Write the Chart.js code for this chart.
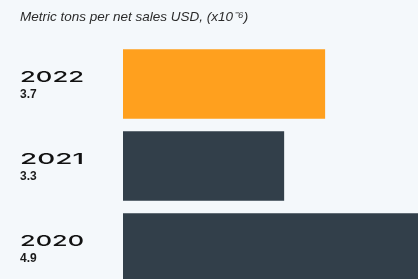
<!DOCTYPE html>
<html>
<head>
<meta charset="utf-8">
<script src="https://cdn.jsdelivr.net/npm/chart.js@4"></script>
<style>
  html,body{margin:0;padding:0;background:#f4f8fb;overflow:hidden;}
  #wrap{position:relative;width:418px;height:289px;}
</style>
</head>
<body>
<div id="wrap"><canvas id="c"></canvas></div>
<script>
const TITLE = 'Metric tons per net sales USD, (x10\u207B\u2076)';
const years  = ['2022', '2021', '2020'];
const values = [3.7, 3.3, 4.9];
const colors = ['#ffa01e', '#323f4a', '#323f4a'];

// left labels: year (wide) + value under it
const labelPlugin = {
  id: 'labels',
  afterDraw(chart){
    const ctx = chart.ctx, y = chart.scales.y;
    ctx.save();
    ctx.fillStyle = '#2b2b2b';
    ctx.font = 'italic 13.5px "Liberation Sans", Arial, sans-serif';
    ctx.textBaseline = 'alphabetic';
    ctx.fillText(TITLE, 20, 21);

    years.forEach((yr,i)=>{
      const cy = y.getPixelForValue(i);
      ctx.save();
      ctx.font = '500 15px Inter, sans-serif';
      ctx.fillStyle = '#111';
      const w = ctx.measureText(yr).width;
      ctx.translate(20, cy - 2);
      ctx.scale(64 / w, 1);
      ctx.fillText(yr, 0, 0);
      ctx.restore();

      ctx.font = 'bold 12px "Liberation Sans", Arial, sans-serif';
      ctx.fillStyle = '#1a1a1a';
      ctx.fillText(values[i].toFixed(1), 20, cy + 14);
    });
    ctx.restore();
  }
};

new Chart(document.getElementById('c'), {
  type: 'bar',
  data: {
    labels: years,
    datasets: [{ data: values, backgroundColor: colors, borderWidth: 0, barThickness: 69 }]
  },
  options: {
    indexAxis: 'y',
    responsive: true,
    maintainAspectRatio: false,
    animation: false,
    layout: { padding: { left: 123, top: 43, right: 0, bottom: 0 } },
    scales: {
      x: { display: false, min: 1.73, max: 4.61 },
      y: { display: false, offset: true }
    },
    plugins: { legend: { display: false }, tooltip: { enabled: false } }
  },
  plugins: [labelPlugin]
});
</script>
</body>
</html>
